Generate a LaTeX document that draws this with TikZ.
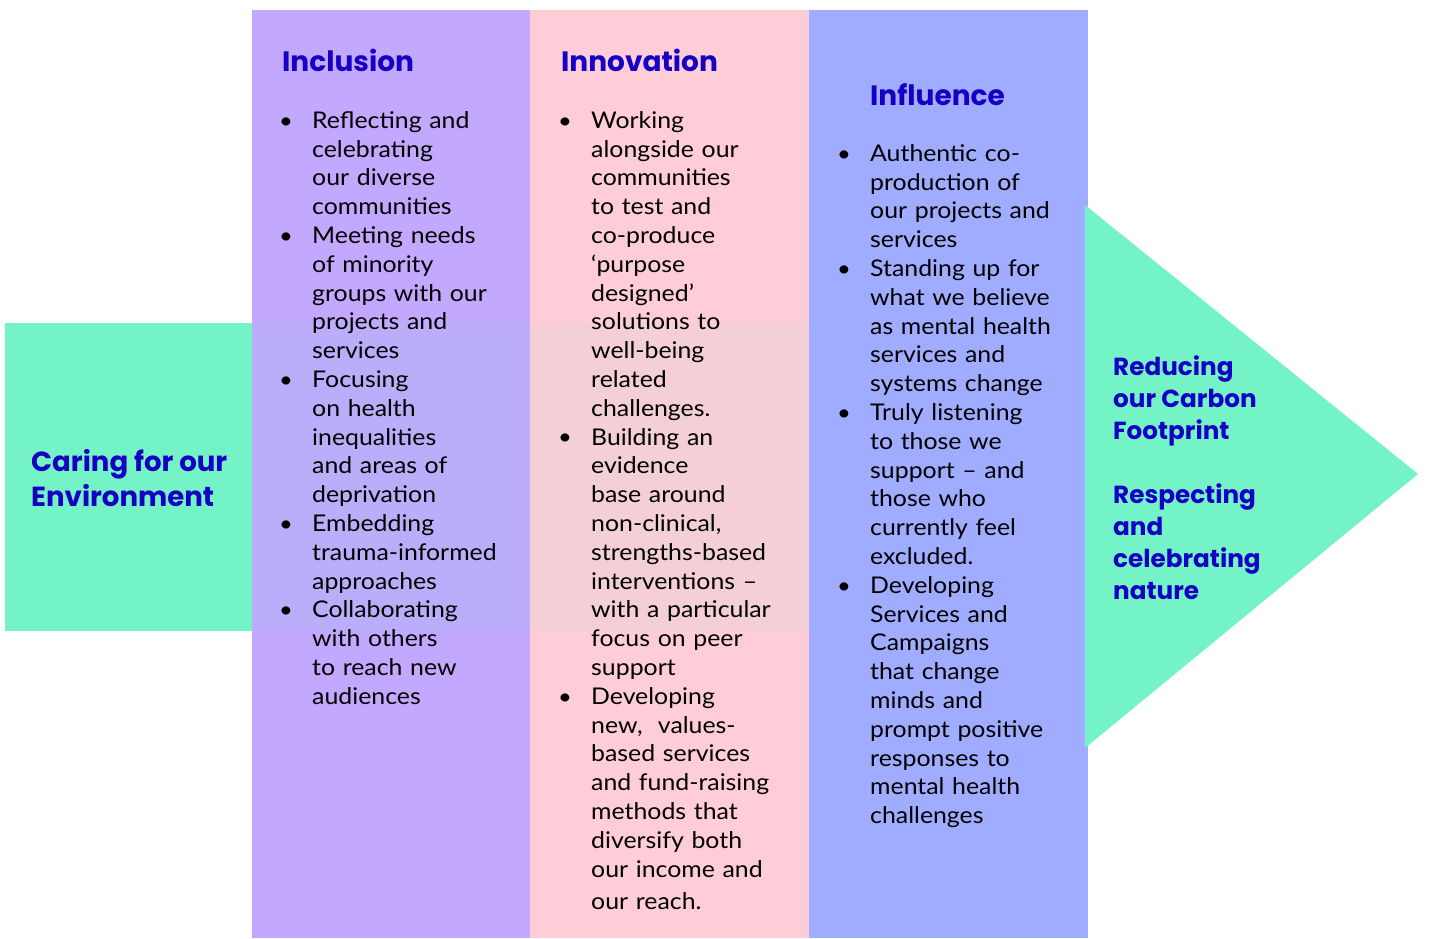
\documentclass[tikz,border=0pt]{standalone}
\usepackage{fontspec}
\setmainfont{Lato}[FakeStretch=1.08]
\newfontfamily\headfont{Poppins}
\definecolor{greenC}{RGB}{116,244,198}
\definecolor{purpleC}{RGB}{195,168,255}
\definecolor{pinkC}{RGB}{255,205,216}
\definecolor{blueC}{RGB}{160,172,255}
\definecolor{headC}{RGB}{22,0,196}
\begin{document}
\begin{tikzpicture}[x=1pt,y=-1pt,
  body/.style={inner sep=0pt,anchor=north west,align=left,text width=200pt,
    font=\fontsize{23}{28.8}\selectfont,text=black},
  bul/.style={inner sep=0pt,anchor=base,font=\fontsize{22}{28.8}\selectfont},
  colhead/.style={inner sep=0pt,anchor=base west,text=headC,font=\headfont\bfseries\fontsize{28}{30}\selectfont},
  sidehead/.style={inner sep=0pt,anchor=north west,align=left,text=headC},
]
\useasboundingbox (0,0) rectangle (1429,938);
% shapes
\fill[greenC] (5,323) rectangle (252,631);
\fill[purpleC] (252,10) rectangle (530,938);
\fill[pinkC] (530,10) rectangle (809,938);
\fill[blueC] (809,10) rectangle (1088,938);
\fill[greenC,opacity=0.08] (252,323) rectangle (809,631);
\fill[greenC] (1085,205) -- (1418,474) -- (1085,748) -- cycle;

% side texts
\node[sidehead,font=\headfont\bfseries\fontsize{27.6}{35}\selectfont] (caring) at (31,471-24.5) {\strut Caring for our\\Environment};
\node[sidehead,font=\headfont\bfseries\fontsize{24.7}{32}\selectfont] (reduce) at (1113,375-22.4) {\strut Reducing\\our Carbon\\Footprint\\[32pt]Respecting\\and\\celebrating\\nature};

% headings
\node[colhead] (h1) at (282,71) {Inclusion};
\node[colhead] (h2) at (561,71) {Innovation};
\node[colhead] (h3) at (870,105) {Influence};

% Inclusion
\node[bul] (b11) at (286,128) {\textbullet};
\node[body] (i11) at (312,128-20.16) {\strut Reflecting and\\celebrating\\our diverse\\communities};
\node[bul] (b12) at (286,243.2) {\textbullet};
\node[body] (i12) at (312,243.2-20.16) {\strut Meeting needs\\of minority\\groups with our\\projects and\\services};
\node[bul] (b13) at (286,387.2) {\textbullet};
\node[body] (i13) at (312,387.2-20.16) {\strut Focusing\\on health\\inequalities\\and areas of\\deprivation};
\node[bul] (b14) at (286,531.2) {\textbullet};
\node[body] (i14) at (312,531.2-20.16) {\strut Embedding\\trauma-informed\\approaches};
\node[bul] (b15) at (286,617.6) {\textbullet};
\node[body] (i15) at (312,617.6-20.16) {\strut Collaborating\\with others\\to reach new\\audiences};

% Innovation
\node[bul] (b21) at (565,128) {\textbullet};
\node[body] (i21) at (591,128-20.16) {\strut Working\\alongside our\\communities\\to test and\\co-produce\\‘purpose\\designed’\\solutions to\\well-being\\related\\challenges.};
\node[bul] (b22) at (565,444.8) {\textbullet};
\node[body] (i22) at (591,444.8-20.16) {\strut Building an\\evidence\\base around\\non-clinical,\\strengths-based\\interventions –\\with a particular\\focus on peer\\support};
\node[bul] (b23) at (565,704) {\textbullet};
\node[body] (i23) at (591,704-20.16) {\strut Developing\\new,\ \ values-\\based services\\and fund-raising\\methods that\\diversify both\\our income and\\[3.4pt]our reach.};

% Influence
\node[bul] (b31) at (844,161) {\textbullet};
\node[body] (i31) at (870,161-20.16) {\strut Authentic co-\\production of\\our projects and\\services};
\node[bul] (b32) at (844,276.2) {\textbullet};
\node[body] (i32) at (870,276.2-20.16) {\strut Standing up for\\what we believe\\as mental health\\services and\\systems change};
\node[bul] (b33) at (844,420.2) {\textbullet};
\node[body] (i33) at (870,420.2-20.16) {\strut Truly listening\\to those we\\support – and\\those who\\currently feel\\excluded.};
\node[bul] (b34) at (844,593) {\textbullet};
\node[body] (i34) at (870,593-20.16) {\strut Developing\\Services and\\Campaigns\\that change\\minds and\\prompt positive\\responses to\\mental health\\challenges};
\end{tikzpicture}
\end{document}
